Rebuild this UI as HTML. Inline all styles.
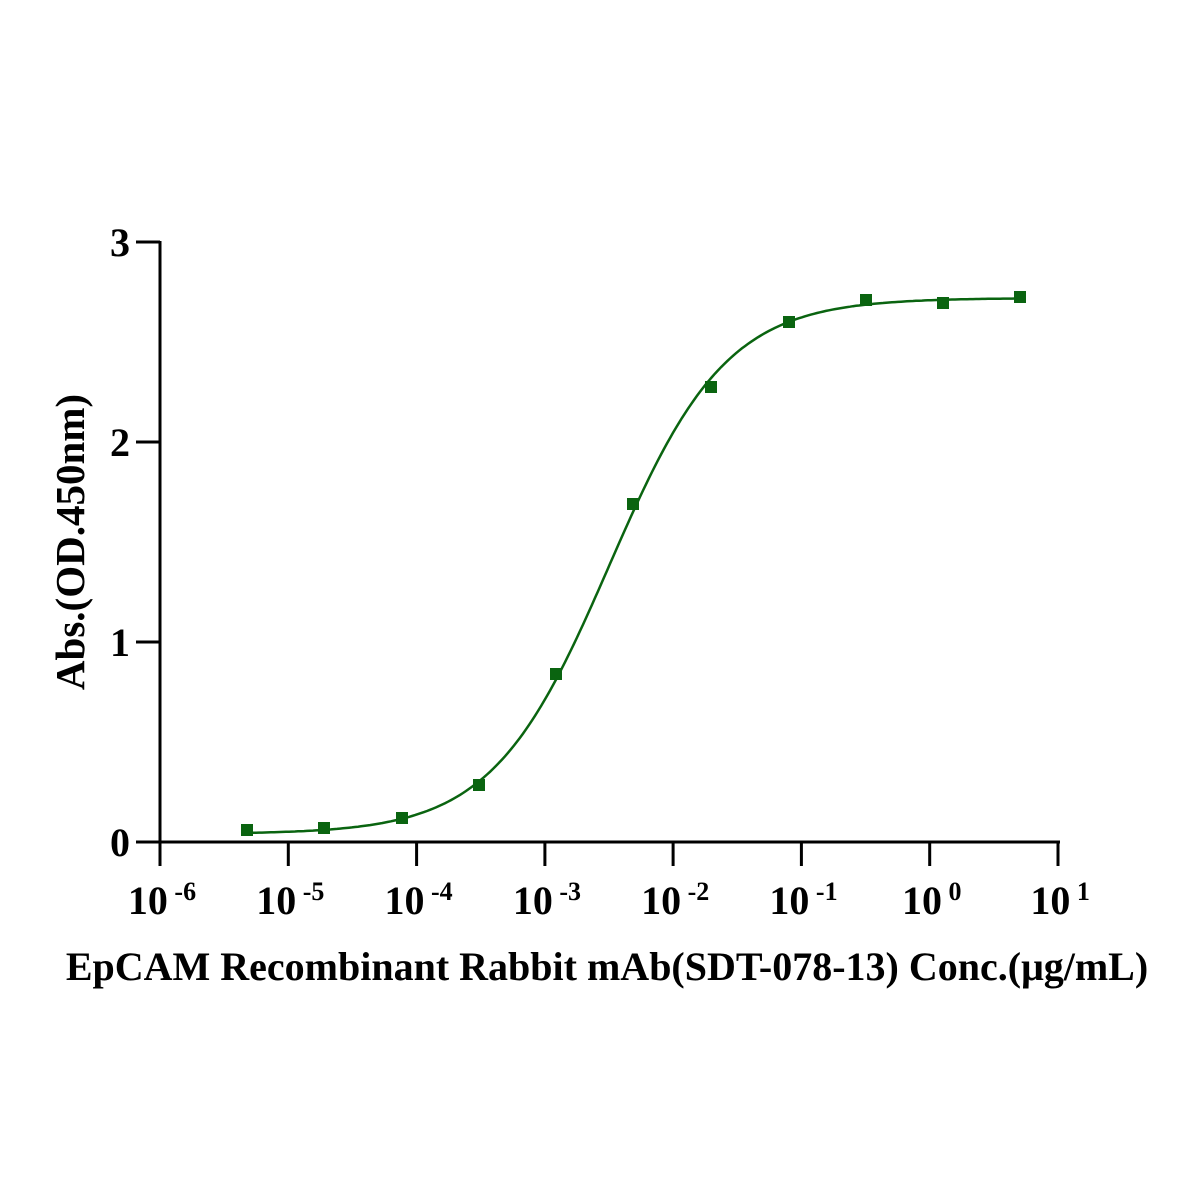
<!DOCTYPE html>
<html><head><meta charset="utf-8"><style>body{margin:0;background:#fff}svg{display:block}text{font-family:"Liberation Serif",serif;font-weight:bold;fill:#000}</style></head>
<body>
<svg id="s" width="1196" height="1196" viewBox="0 0 1196 1196" xmlns="http://www.w3.org/2000/svg">
<g stroke="#000" stroke-width="3" fill="none">
<line x1="160" y1="241" x2="160" y2="843"/>
<line x1="136" y1="842" x2="1060" y2="842"/>
<line x1="136" y1="242" x2="160" y2="242"/>
<line x1="136" y1="442" x2="160" y2="442"/>
<line x1="136" y1="642" x2="160" y2="642"/>
<line x1="160" y1="842" x2="160" y2="866"/>
<line x1="288.3" y1="842" x2="288.3" y2="866"/>
<line x1="416.6" y1="842" x2="416.6" y2="866"/>
<line x1="544.9" y1="842" x2="544.9" y2="866"/>
<line x1="673.1" y1="842" x2="673.1" y2="866"/>
<line x1="801.4" y1="842" x2="801.4" y2="866"/>
<line x1="929.7" y1="842" x2="929.7" y2="866"/>
<line x1="1058" y1="842" x2="1058" y2="866"/>
</g>
<g font-size="40" text-anchor="end">
<text x="130" y="256">3</text><text x="130" y="456">2</text><text x="130" y="656">1</text><text x="130" y="856">0</text>
</g>
<g font-size="40" text-anchor="middle" id="xt"></g>
<text font-size="41" text-anchor="middle" transform="translate(84,542) rotate(-90)">Abs.(OD.450nm)</text>
<text x="607" y="980" font-size="40" text-anchor="middle">EpCAM Recombinant Rabbit mAb(SDT-078-13) Conc.(μg/mL)</text>
<path id="c" fill="none" stroke="#0a6410" stroke-width="2.5"/>
<g id="p" fill="#0a6410"></g>
</svg>
<script>
var ns="http://www.w3.org/2000/svg";
function X(l){return 160+(l+6)*128.3}
function Y(v){return 842-200*v}
function f(l){return 0.04+2.68/(1+Math.pow(10,(-2.5-l)*0.95))}
var d="";for(var px=247;px<=1020;px+=3){var l=(px-160)/128.3-6;d+=(d?"L":"M")+px+","+Y(f(l)).toFixed(1)}
document.getElementById("c").setAttribute("d",d);
var pts=[[247,830],[324,828],[402,818],[479,785],[556,674],[633,504],[711,387],[789,322],[866,300],[943,303],[1020,297]];
var g=document.getElementById("p");
pts.forEach(function(p){var r=document.createElementNS(ns,"rect");r.setAttribute("x",p[0]-6);r.setAttribute("y",p[1]-6);r.setAttribute("width",12);r.setAttribute("height",12);g.appendChild(r)});
var xt=document.getElementById("xt");
for(var i=0;i<8;i++){var e=-6+i;var t=document.createElementNS(ns,"text");t.setAttribute("x",X(e)+2);t.setAttribute("y",914);
t.innerHTML='10<tspan font-size="26" dy="-14"> '+(e<0?'-'+(-e):e)+'</tspan>';xt.appendChild(t)}
</script>
</body></html>
